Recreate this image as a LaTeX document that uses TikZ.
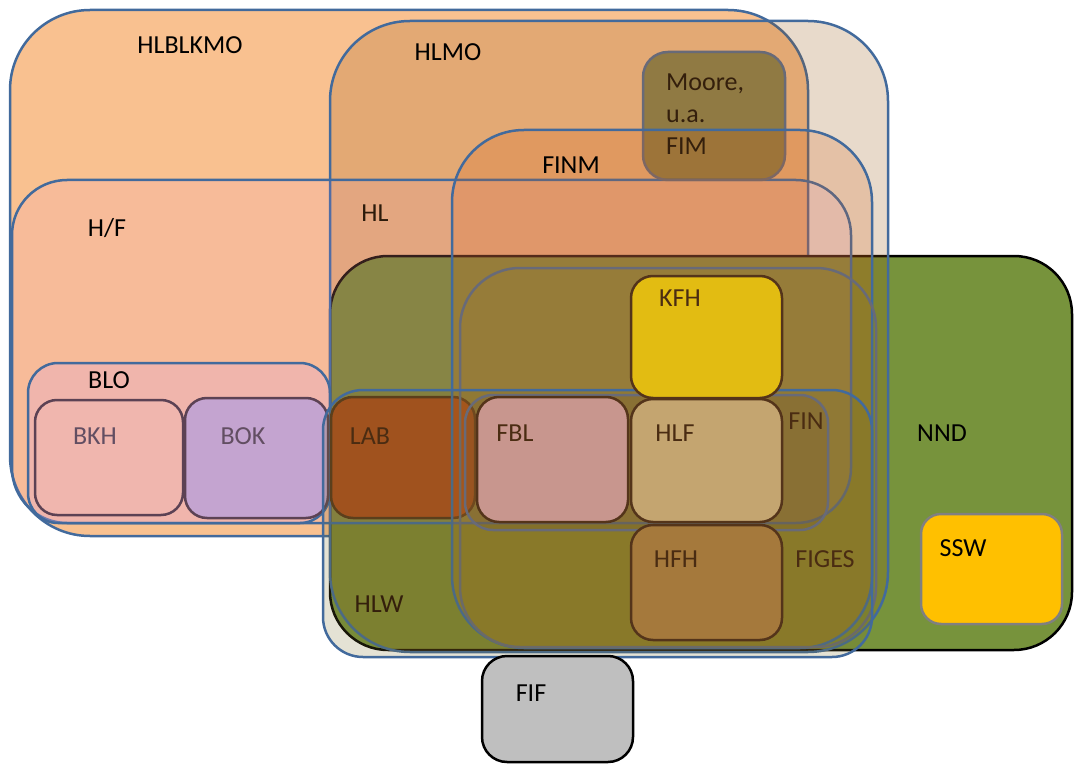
\documentclass[tikz,border=0pt]{standalone}
\usepackage{fontspec}
\setmainfont{Carlito}
\definecolor{rimblue}{RGB}{66,106,156}
\definecolor{rimgray}{RGB}{104,106,120}
\definecolor{rimbrown}{RGB}{84,52,26}
\definecolor{rimplum}{RGB}{92,66,84}
\definecolor{txtbrown}{RGB}{74,44,18}
\definecolor{txtplum}{RGB}{98,78,98}
\definecolor{peach}{RGB}{249,193,144}
\definecolor{nndgreen}{RGB}{119,147,60}
\definecolor{hlmobrown}{RGB}{150,87,19}
\definecolor{hfpink}{RGB}{230,140,240}
\definecolor{fimolive}{RGB}{90,92,35}
\definecolor{finmorange}{RGB}{212,93,18}
\definecolor{blolilac}{RGB}{224,168,216}
\definecolor{bkhpink}{RGB}{240,182,174}
\definecolor{boklilac}{RGB}{196,164,208}
\definecolor{labrust}{RGB}{170,75,28}
\definecolor{figesolive}{RGB}{150,120,40}
\definecolor{hlwolive}{RGB}{120,110,40}
\definecolor{finbrown}{RGB}{110,80,50}
\definecolor{fblrose}{RGB}{200,150,142}
\definecolor{hlftan}{RGB}{196,165,112}
\definecolor{kfhgold}{RGB}{226,188,18}
\definecolor{hfhbrown}{RGB}{165,121,60}
\definecolor{sswamber}{RGB}{255,192,0}
\definecolor{fifgray}{RGB}{191,191,191}

\begin{document}
\begin{tikzpicture}[x = 1pt, y = -1pt,
		setbox/.style = {draw = rimblue, line width = 2.5pt},
		unitbox/.style = {draw = rimbrown, line width = 2.5pt, rounded corners = 22pt},
		lbl/.style = {inner sep = 0pt, font = \fontsize{26}{32}\selectfont}]
	\useasboundingbox (0,0) rectangle (1074,765);
	\draw [setbox, fill = peach, rounded corners = 80pt] (10,10) rectangle (808,536);
	\draw [draw = black, line width = 2.5pt, fill = nndgreen, rounded corners = 58pt] (330,256) rectangle (1072,650);
	\draw [setbox, fill = hlmobrown, fill opacity = 0.22, rounded corners = 80pt] (330,21) rectangle (888,652);
	\draw [setbox, fill = hfpink, fill opacity = 0.1, rounded corners = 55pt] (12,180) rectangle (851,523);
	\draw [draw = rimgray, line width = 2.5pt, fill = fimolive, fill opacity = 0.6, rounded corners = 25pt] (643,52) rectangle (785,180);
	\draw [setbox, fill = blolilac, fill opacity = 0.3, rounded corners = 30pt] (28,363) rectangle (330,523);
	\draw [unitbox, draw = rimplum, fill = bkhpink] (35,400) rectangle (183,515);
	\draw [unitbox, draw = rimplum, fill = boklilac] (185,398) rectangle (328,518);
	\draw [unitbox, fill = labrust] (331,397) rectangle (475,518);
	\draw [setbox, fill = finmorange, fill opacity = 0.2, rounded corners = 72pt] (452,130) rectangle (872,648);
	\draw [draw = rimgray, line width = 2.5pt, fill = figesolive, fill opacity = 0.05, rounded corners = 60pt] (460,268) rectangle (876,647);
	\draw [setbox, fill = hlwolive, fill opacity = 0.2, rounded corners = 40pt] (323,390) rectangle (872,657);
	\draw [draw = rimgray, line width = 2.5pt, fill = finbrown, fill opacity = 0.2, rounded corners = 28pt] (465,395) rectangle (828,530);
	\draw [unitbox, fill = fblrose] (477,397) rectangle (628,522);
	\draw [unitbox, fill = hlftan] (631,399) rectangle (782,522);
	\draw [unitbox, fill = kfhgold] (631,276) rectangle (782,398);
	\draw [unitbox, fill = hfhbrown] (631,525) rectangle (782,640);
	\draw [draw = gray, line width = 2.5pt, fill = sswamber, rounded corners = 20pt] (921,514) rectangle (1062,624);
	\draw [draw = black, line width = 2.5pt, fill = fifgray, rounded corners = 25pt] (482,656) rectangle (633,762);

	\node [lbl] (hlblkmo) at (190,45) {HLBLKMO};
	\node [lbl] (hlmo) at (448,52) {HLMO};
	\node [lbl, text = txtbrown!70!black, align = left, anchor = north west] (fim) at (666,74) {Moore,\\u.a.\\FIM};
	\node [lbl] (finm) at (571,165) {FINM};
	\node [lbl] (hf) at (107,228) {H/F};
	\node [lbl, text = txtbrown!60!black] (hl) at (375,213) {HL};
	\node [lbl] (blo) at (109,380) {BLO};
	\node [lbl, text = txtplum] (bkh) at (95,436) {BKH};
	\node [lbl, text = txtplum] (bok) at (243,436) {BOK};
	\node [lbl, text = txtbrown] (lab) at (370,436) {LAB};
	\node [lbl, text = txtbrown] (fbl) at (515,433) {FBL};
	\node [lbl, text = txtbrown] (hlf) at (675,433) {HLF};
	\node [lbl, text = txtbrown] (fin) at (806,421) {FIN};
	\node [lbl, text = txtbrown] (kfh) at (680,298) {KFH};
	\node [lbl] (nnd) at (942,433) {NND};
	\node [lbl, text = txtbrown] (hfh) at (676,559) {HFH};
	\node [lbl, text = txtbrown] (figes) at (825,559) {FIGES};
	\node [lbl] (ssw) at (963,548) {SSW};
	\node [lbl, text = txtbrown!70!black] (hlw) at (379,604) {HLW};
	\node [lbl] (fif) at (531,693) {FIF};
\end{tikzpicture}
\end{document}
